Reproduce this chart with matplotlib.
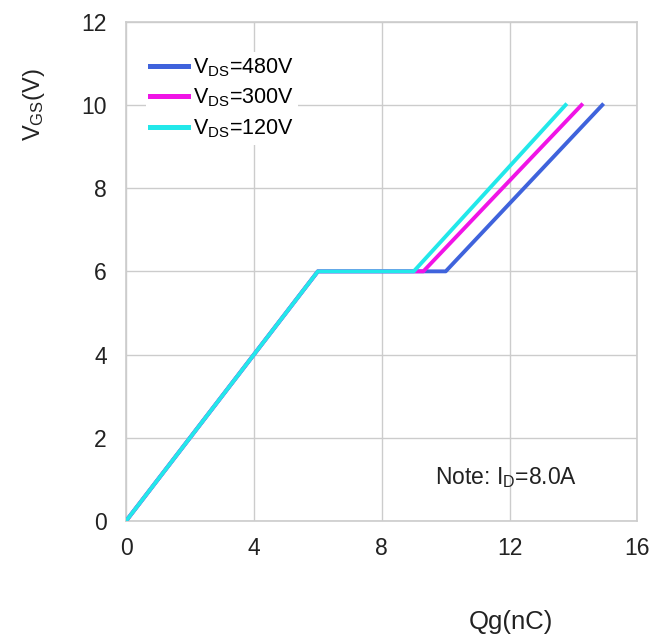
import matplotlib
matplotlib.use("Agg")
import matplotlib.pyplot as plt

plt.rcParams['font.family'] = ['Liberation Sans', 'DejaVu Sans']
plt.rcParams['mathtext.fontset'] = 'custom'
plt.rcParams['mathtext.rm'] = 'Liberation Sans'
plt.rcParams['mathtext.it'] = 'Liberation Sans'

# gate charge curves: Qg (nC) vs VGS (V)
vgs = [0, 6, 6, 10]
qg_480 = [0, 6, 10.0, 14.9]
qg_300 = [0, 6, 9.3, 14.25]
qg_120 = [0, 6, 9.0, 13.75]

labels = [r"V$_{\rm DS}$=480V", r"V$_{\rm DS}$=300V", r"V$_{\rm DS}$=120V"]
colors = ["#3f63dc", "#f014e6", "#22e8ea"]

fig = plt.figure(figsize=(6.71, 6.43), dpi=100)
ax = fig.add_axes([0.188, 0.19, 0.762, 0.776])

ax.plot(qg_480, vgs, color=colors[0], lw=2.8, label=labels[0], zorder=3)
ax.plot(qg_300, vgs, color=colors[1], lw=2.8, label=labels[1], zorder=4)
ax.plot(qg_120, vgs, color=colors[2], lw=2.8, label=labels[2], zorder=5)

ax.set_xlim(0, 16)
ax.set_ylim(0, 12)
ax.set_xticks([0, 4, 8, 12, 16])
ax.set_yticks([0, 2, 4, 6, 8, 10, 12])
ax.tick_params(length=0, labelsize=16.5, colors="#222222")
ax.tick_params(axis="y", pad=14)
ax.tick_params(axis="x", pad=12)
ax.grid(color="#cccccc", lw=1.0)
for s in ax.spines.values():
    s.set_color("#cccccc")
    s.set_linewidth(1.2)

ax.set_ylabel(r"V$_{\rm GS}$(V)", fontsize=17, color="#222222")
ax.yaxis.set_label_coords(-0.155, 0.835)
fig.text(0.762, 0.022, "Qg(nC)", fontsize=18.5, ha="center", color="#222222")

ax.text(0.605, 0.074, r"Note: I$_{\rm D}$=8.0A", transform=ax.transAxes,
        fontsize=16.5, color="#222222", va="baseline")

leg = ax.legend(loc="upper left", bbox_to_anchor=(0.038, 0.94), fontsize=15.5,
                frameon=True, facecolor="white", edgecolor="none", framealpha=1,
                handlelength=1.75, handletextpad=0.25, labelspacing=0.38,
                borderpad=0.2, borderaxespad=0)
leg.set_zorder(6)
for h in leg.get_lines():
    h.set_linewidth(3.6)

fig.savefig("out.png", dpi=100)
